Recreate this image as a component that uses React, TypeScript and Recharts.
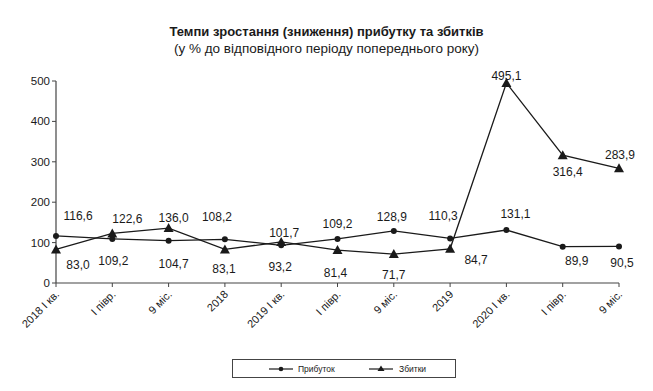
import React from "react";
import { LineChart, Line, XAxis, YAxis, LabelList } from "recharts";

const periods = [
  "2018 I кв.",
  "I півр.",
  "9 міс.",
  "2018",
  "2019 I кв.",
  "I півр.",
  "9 міс.",
  "2019",
  "2020 I кв.",
  "I півр.",
  "9 міс.",
];
const profit = [116.6, 109.2, 104.7, 108.2, 93.2, 109.2, 128.9, 110.3, 131.1, 89.9, 90.5];
const losses = [83.0, 122.6, 136.0, 83.1, 101.7, 81.4, 71.7, 84.7, 495.1, 316.4, 283.9];
const yTicks = [0, 100, 200, 300, 400, 500];

// label offsets (dx, dy) from each point, as Excel placed them
const profitLabelOffset = [
  [22, -20], [1, 22], [5, 23], [-8, -22], [-1, 22], [0, -15],
  [-2, -14], [-7, -22], [9, -16], [14, 14], [3, 17],
];
const lossLabelOffset = [
  [22, 16], [15, -14], [5, -10], [-1, 20], [3, -9], [-2, 23],
  [0, 21], [26, 11], [0, -7], [5, 17], [1, -13],
];

const data = periods.map((p, i) => ({ period: p, profit: profit[i], losses: losses[i] }));

const FONT = "'Liberation Sans', Arial, sans-serif";
const INK = "#1a1a1a";

const fmt = (v: number) => v.toFixed(1).replace(".", ",");

function makeLabel(offsets: number[][]) {
  return (props: any) => {
    const { x, y, value, index } = props;
    const [dx, dy] = offsets[index] || [0, -12];
    return (
      <text
        x={x + dx}
        y={y + dy}
        textAnchor="middle"
        dominantBaseline="central"
        fontSize={12}
        fontFamily={FONT}
        fill={INK}
      >
        {fmt(value)}
      </text>
    );
  };
}

const Triangle = (props: any) => {
  const { cx, cy, index } = props;
  if (cx == null || cy == null) return null;
  return (
    <polygon
      key={`t-${index}`}
      points={`${cx},${cy - 5} ${cx - 5},${cy + 4} ${cx + 5},${cy + 4}`}
      fill={INK}
    />
  );
};

const XTick = (props: any) => {
  const { x, y, payload } = props;
  return (
    <text
      x={x + 4}
      y={y + 6}
      transform={`rotate(-45 ${x + 4} ${y + 6})`}
      textAnchor="end"
      fontSize={11}
      fontFamily={FONT}
      fill={INK}
    >
      {payload.value}
    </text>
  );
};

const LegendBox = () => (
  <div
    style={{
      position: "absolute",
      left: 232,
      top: 359,
      width: 224,
      height: 19,
      border: "1px solid #444",
      boxSizing: "border-box",
    }}
  >
    <svg width={222} height={17} style={{ display: "block" }}>
      <line x1={36} x2={60} y1={9} y2={9} stroke={INK} strokeWidth={1.2} />
      <circle cx={48} cy={9} r={2.3} fill={INK} />
      <text x={65} y={12} fontSize={8.5} fontFamily={FONT} fill={INK}>
        Прибуток
      </text>
      <line x1={136} x2={160} y1={9} y2={9} stroke={INK} strokeWidth={1.2} />
      <polygon points="148,5.5 144.5,11 151.5,11" fill={INK} />
      <text x={142 + 24} y={12} fontSize={8.5} fontFamily={FONT} fill={INK}>
        Збитки
      </text>
    </svg>
  </div>
);

export default function App() {
  return (
    <div
      style={{
        position: "absolute",
        left: 0,
        top: 0,
        width: 653,
        height: 391,
        background: "#fff",
      }}
    >
      <div
        style={{
          position: "absolute",
          left: 0,
          top: 23,
          width: 653,
          textAlign: "center",
          fontFamily: FONT,
          color: INK,
          lineHeight: "17px",
        }}
      >
        <div style={{ fontWeight: "bold", fontSize: 13 }}>
          Темпи зростання (зниження) прибутку та збитків
        </div>
        <div style={{ fontSize: 13.5 }}>(у % до відповідного періоду попереднього року)</div>
      </div>
      <LineChart
        width={653}
        height={391}
        data={data}
        margin={{ top: 81, right: 34, left: 26, bottom: 48 }}
      >
        <XAxis
          dataKey="period"
          interval={0}
          height={60}
          tick={<XTick />}
          tickLine={{ stroke: "#444" }}
          tickSize={4}
          axisLine={{ stroke: "#444", strokeWidth: 1.2 }}
        />
        <YAxis
          width={30}
          domain={[0, 500]}
          ticks={yTicks}
          tickSize={4}
          tickLine={{ stroke: "#444" }}
          axisLine={{ stroke: "#444", strokeWidth: 1.2 }}
          tick={{ fill: INK, fontSize: 11.5, fontFamily: FONT }}
        />
        <Line
          dataKey="profit"
          stroke={INK}
          strokeWidth={1.3}
          dot={{ r: 3, fill: INK, stroke: INK, strokeWidth: 0 }}
          isAnimationActive={false}
        >
          <LabelList dataKey="profit" content={makeLabel(profitLabelOffset)} />
        </Line>
        <Line
          dataKey="losses"
          stroke={INK}
          strokeWidth={1.3}
          dot={<Triangle />}
          isAnimationActive={false}
        >
          <LabelList dataKey="losses" content={makeLabel(lossLabelOffset)} />
        </Line>
      </LineChart>
      <LegendBox />
    </div>
  );
}
